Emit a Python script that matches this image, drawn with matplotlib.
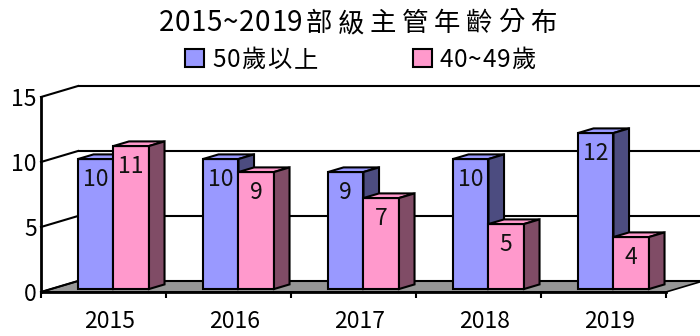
import matplotlib
matplotlib.use("Agg")
import matplotlib.pyplot as plt
from matplotlib.patches import Polygon, Rectangle

plt.rcParams['font.family'] = ['Noto Sans CJK TC', 'DejaVu Sans']

# Data
years = ['2015', '2016', '2017', '2018', '2019']
over50 = [10, 10, 9, 10, 12]
age40_49 = [11, 9, 7, 5, 4]
series_names = ['50歲以上', '40~49歲']
title = '2015~2019部級主管年齡分布'
yticks = [0, 5, 10, 15]

front_colors = ['#9999FF', '#FF99CC']
side_colors = ['#4C4C80', '#804C66']
top_colors = ['#9999FF', '#FF99CC']
floor_color = '#969696'

# Oblique projection of the depth axis (in data units of the front plane)
DXW, DYW = 0.296, 0.846      # full depth of the plot box
F0, FD = 0.27, 0.42          # bar front position and bar depth (fraction of box depth)
BAR_W = 0.284
GAP = (1 - 2 * BAR_W) / 2
LW = 1.5

W, H = 700, 336
fig = plt.figure(figsize=(W / 100, H / 100), dpi=100)
ax = fig.add_axes([41 / W, (H - 292) / H, (666 - 41) / W, (292 - 97) / H])
ncat = len(years)
ymax = yticks[-1]
ax.set_xlim(0, ncat)
ax.set_ylim(0, ymax)
for sp in ax.spines.values():
    sp.set_visible(False)


def poly(pts, fc, ec='black', lw=LW, z=2):
    p = Polygon(pts, closed=True, facecolor=fc, edgecolor=ec, linewidth=lw,
                joinstyle='miter', clip_on=False, zorder=z)
    ax.add_patch(p)


def pitched_text(s, x, y, pitch_ascii, pitch_cjk, fs_ascii, fs_cjk):
    """Draw a string one character per cell, with fixed cell widths in pixels."""
    cx = x
    for ch in s:
        narrow = ord(ch) < 128
        p = pitch_ascii if narrow else pitch_cjk
        fig.text((cx + p / 2) / W, 1 - y / H, ch, ha='center', va='baseline',
                 fontsize=fs_ascii if narrow else fs_cjk)
        cx += p


# Floor
poly([(0, 0), (ncat, 0), (ncat + DXW, DYW), (DXW, DYW)], floor_color, lw=1.2, z=1)

# Back-wall gridlines and left-wall diagonals
for v in yticks:
    ax.plot([DXW, ncat + DXW], [v + DYW, v + DYW], color='black', lw=LW,
            clip_on=False, zorder=1.5, solid_capstyle='butt')
    ax.plot([0, DXW], [v, v + DYW], color='black', lw=LW, clip_on=False, zorder=1.5)

# Front value axis and front floor edge
ax.plot([0, 0], [0, ymax], color='black', lw=2, clip_on=False, zorder=3)
ax.plot([0, ncat], [0, 0], color='black', lw=2, clip_on=False, zorder=3)

# Bars
for i in range(ncat):
    for s, vals in enumerate([over50, age40_49]):
        v = vals[i]
        x0 = i + GAP + s * BAR_W + F0 * DXW
        x1 = x0 + BAR_W
        y0 = F0 * DYW
        bx, by = FD * DXW, FD * DYW
        poly([(x0, y0), (x1, y0), (x1, y0 + v), (x0, y0 + v)], front_colors[s], z=4)
        poly([(x0, y0 + v), (x1, y0 + v), (x1 + bx, y0 + v + by), (x0 + bx, y0 + v + by)],
             top_colors[s], z=4)
        poly([(x1, y0), (x1 + bx, y0 + by), (x1 + bx, y0 + v + by), (x1, y0 + v)],
             side_colors[s], z=4)
        ax.annotate(str(v), xy=((x0 + x1) / 2, y0 + v), xytext=(0, -15),
                    textcoords='offset points', ha='center', va='center',
                    fontsize=16.5, color='#111111', zorder=6, annotation_clip=False)

# Axis labels
ax.set_yticks(yticks)
ax.set_yticklabels([str(t) for t in yticks], fontsize=16.5)
ax.tick_params(axis='y', length=0, pad=3)
ax.set_xticks([i + 0.5 + 0.05 for i in range(ncat)])
ax.set_xticklabels(years, fontsize=16.5)
ax.set_xticks(range(ncat + 1), minor=True)
ax.tick_params(axis='x', which='major', length=0, pad=13)
ax.tick_params(axis='x', which='minor', length=4, width=1.5, direction='out')

# Title
pitched_text(title, 158, 31, 16.1, 32.0, 20, 19)

# Legend
legend_boxes = [185, 413]
legend_text_x = [212, 439]
for s, name in enumerate(series_names):
    bx0 = legend_boxes[s]
    fig.patches.append(Rectangle((bx0 / W, 1 - 67 / H), 19 / W, 18 / H,
                                 transform=fig.transFigure, facecolor=front_colors[s],
                                 edgecolor='black', linewidth=1.5))
    pitched_text(name, legend_text_x[s], 67, 14.3, 26.0, 17.5, 17.5)

fig.savefig('out.png', dpi=100)
